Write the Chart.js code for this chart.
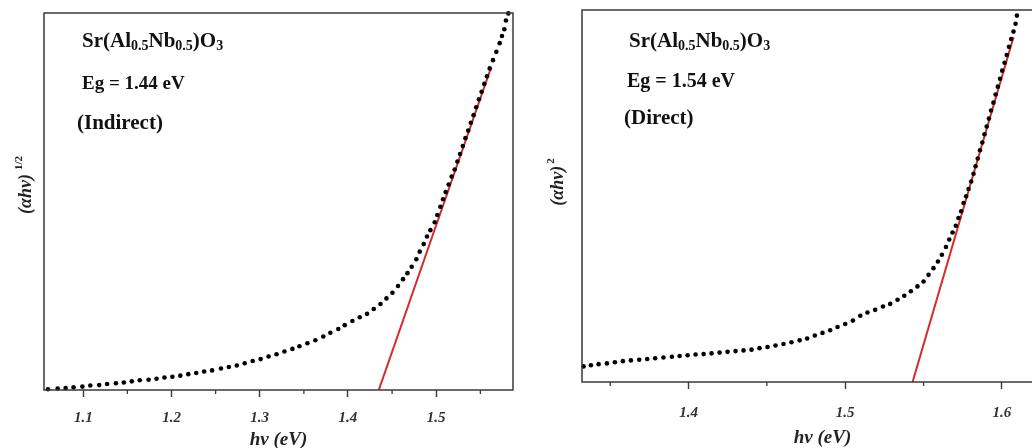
<!DOCTYPE html>
<html>
<head>
<meta charset="utf-8">
<script src="https://cdn.jsdelivr.net/npm/chart.js@4.4.0/dist/chart.umd.min.js"></script>
<style>
  html, body { margin: 0; padding: 0; background: #fff; overflow: hidden; }
  #wrap { position: relative; width: 1032px; height: 448px; overflow: hidden; }
  #leftBox { position: absolute; left: 0; top: 0; width: 520px; height: 448px; }
  #rightBox { position: absolute; left: 520px; top: 0; width: 550px; height: 448px; }
</style>
</head>
<body>
<div id="wrap">
  <div id="leftBox"><canvas id="indirectChart" width="520" height="448"></canvas></div>
  <div id="rightBox"><canvas id="directChart" width="550" height="448"></canvas></div>
</div>
<script>
// indirect gap, (alpha h nu)^1/2 vs h nu
const indirectX = [1.060, 1.071, 1.080, 1.089, 1.099, 1.108, 1.118, 1.127, 1.137, 1.146, 1.155, 1.164, 1.174, 1.183,
  1.192, 1.201, 1.210, 1.219, 1.228, 1.237, 1.246, 1.256, 1.265, 1.274, 1.283, 1.292, 1.301, 1.310, 1.319, 1.328,
  1.337, 1.345, 1.354, 1.363, 1.372, 1.380, 1.389, 1.3963, 1.4050, 1.4133, 1.4216, 1.4292, 1.4368, 1.4436, 1.4504,
  1.4567, 1.4624, 1.4674, 1.4722, 1.4775, 1.4813, 1.4858, 1.4895, 1.4934, 1.4983, 1.5013, 1.5047, 1.5077, 1.5107,
  1.5141, 1.5175, 1.5209, 1.5240, 1.5270, 1.5301, 1.5331, 1.5362, 1.5392, 1.5423, 1.5453, 1.5484, 1.5514, 1.5545,
  1.5575, 1.5606, 1.5643, 1.5681, 1.5719, 1.5745, 1.5772, 1.5790, 1.5817];
const indirectY = [0.2, 0.4, 0.5, 0.7, 0.9, 1.2, 1.3, 1.6, 1.8, 2.0, 2.3, 2.6, 2.7, 3.0,
  3.3, 3.5, 3.8, 4.2, 4.5, 4.9, 5.2, 5.7, 6.1, 6.5, 7.1, 7.7, 8.2, 8.9, 9.5, 10.2,
  10.9, 11.6, 12.4, 13.2, 14.2, 15.2, 16.2, 17.2, 18.3, 19.3, 20.2, 21.5, 22.8, 24.3, 25.8,
  27.6, 29.4, 31.0, 32.7, 34.7, 36.7, 38.7, 40.7, 42.4, 44.5, 46.4, 48.6, 50.6, 52.5,
  54.5, 56.6, 58.5, 60.6, 62.6, 64.7, 66.8, 68.8, 70.9, 72.9, 75.0, 77.1, 79.1, 81.2,
  83.2, 85.3, 87.5, 89.7, 92.0, 93.9, 95.7, 98.0, 99.9];
const indirectFitX = [1.4349, 1.5617];
const indirectFitY = [0, 85.2];
const indirectTicks = [1.1, 1.2, 1.3, 1.4, 1.5];
const indirectMinor = [1.15, 1.25, 1.35, 1.45, 1.55];

// direct gap, (alpha h nu)^2 vs h nu
const directX = [1.3330, 1.3377, 1.3426, 1.3479, 1.3530, 1.3581, 1.3632, 1.3685, 1.3736, 1.3787, 1.3840, 1.3894,
  1.3943, 1.3994, 1.4045, 1.4096, 1.4147, 1.4198, 1.4249, 1.4300, 1.4351, 1.4402, 1.4453, 1.4504, 1.4555, 1.4606,
  1.4657, 1.4709, 1.4757, 1.4806, 1.4855, 1.4904, 1.4951, 1.5000, 1.5049, 1.5096, 1.5142, 1.5191, 1.5241, 1.5287,
  1.5334, 1.5377, 1.5419, 1.5461, 1.5500, 1.5532, 1.5563, 1.5592, 1.5617, 1.5643, 1.5664, 1.5685, 1.5706, 1.5723,
  1.5740, 1.5755, 1.5772, 1.5787, 1.5804, 1.5819, 1.5832, 1.5846, 1.5860, 1.5875, 1.5889, 1.5903, 1.5917, 1.5931,
  1.5946, 1.5960, 1.5974, 1.5988, 1.6002, 1.6017, 1.6031, 1.6045, 1.6059, 1.6074, 1.6087, 1.6096];
const directY = [4.2, 4.5, 4.8, 5.0, 5.3, 5.6, 5.8, 6.0, 6.2, 6.4, 6.6, 6.8,
  7.0, 7.2, 7.4, 7.5, 7.7, 7.9, 8.1, 8.3, 8.5, 8.7, 9.1, 9.4, 9.8, 10.2,
  10.7, 11.2, 11.7, 12.5, 13.2, 13.9, 14.8, 15.6, 16.5, 17.8, 18.7, 19.4, 20.3, 21.0,
  22.1, 23.2, 24.4, 25.7, 27.0, 28.8, 30.6, 32.4, 34.2, 36.3, 38.3, 40.2, 42.0, 44.1,
  45.9, 48.1, 49.9, 51.9, 53.9, 56.0, 58.0, 60.1, 62.3, 64.4, 66.6, 68.7, 70.8, 73.0,
  75.1, 77.3, 79.4, 81.5, 83.7, 85.8, 87.9, 90.1, 92.2, 94.2, 96.3, 98.5];
const directFitX = [1.5430, 1.6074];
const directFitY = [0, 92.7];
const directTicks = [1.4, 1.5, 1.6];
const directMinor = [1.35, 1.45, 1.55];

const SERIF = "'Liberation Serif', 'Times New Roman', serif";

function toPoints(xs, ys) {
  return xs.map((x, i) => ({ x: x, y: ys[i] }));
}

// box, minor ticks, y title with superscript, text block
const decorPlugin = {
  id: "decor",
  afterDraw(chart, args, opts) {
    const { ctx, chartArea } = chart;
    const xs = chart.scales.x;
    ctx.save();
    ctx.strokeStyle = "#3a3a3a";
    ctx.lineWidth = 1.5;
    ctx.strokeRect(chartArea.left, chartArea.top, chartArea.right - chartArea.left, chartArea.bottom - chartArea.top);

    ctx.lineWidth = 1.3;
    opts.minor.forEach((v) => {
      const px = xs.getPixelForValue(v);
      if (px < chartArea.left || px > chartArea.right) return;
      ctx.beginPath();
      ctx.moveTo(px, chartArea.bottom);
      ctx.lineTo(px, chartArea.bottom + 4);
      ctx.stroke();
    });

    // y axis title
    ctx.fillStyle = "#222";
    ctx.translate(opts.yTitle.x, opts.yTitle.y);
    ctx.rotate(-Math.PI / 2);
    ctx.font = "italic bold 18px " + SERIF;
    const w1 = ctx.measureText(opts.yTitle.main).width;
    ctx.font = "bold 11px " + SERIF;
    const w2 = ctx.measureText(opts.yTitle.sup).width;
    const start = -(w1 + w2 + opts.yTitle.gap) / 2;
    ctx.textBaseline = "alphabetic";
    ctx.font = "italic bold 18px " + SERIF;
    ctx.fillText(opts.yTitle.main, start, 6);
    ctx.font = "bold 11px " + SERIF;
    ctx.fillText(opts.yTitle.sup, start + w1 + opts.yTitle.gap, -3);
    ctx.restore();

    // annotation lines
    ctx.save();
    ctx.fillStyle = "#111";
    ctx.textBaseline = "alphabetic";
    opts.lines.forEach((line) => {
      let x = line.x;
      line.parts.forEach(([t, sub]) => {
        ctx.font = sub ? "bold 14px " + SERIF : "bold " + line.size + "px " + SERIF;
        ctx.fillText(t, x, line.y + (sub ? 3 : 0));
        x += ctx.measureText(t).width;
      });
    });
    ctx.restore();
  },
};

function makeChart(id, cfg) {
  return new Chart(document.getElementById(id), {
    type: "scatter",
    data: {
      datasets: [
        {
          data: toPoints(cfg.x, cfg.y),
          pointRadius: 2.3,
          pointBackgroundColor: "#000",
          pointBorderWidth: 0,
          showLine: false,
          clip: false,
        },
        {
          data: toPoints(cfg.fitX, cfg.fitY),
          showLine: true,
          borderColor: "#d42a2a",
          borderWidth: 2,
          pointRadius: 0,
        },
      ],
    },
    plugins: [decorPlugin],
    options: {
      responsive: false,
      animation: false,
      devicePixelRatio: 1,
      layout: { padding: cfg.padding },
      plugins: {
        legend: { display: false },
        tooltip: { enabled: false },
        decor: { minor: cfg.minor, yTitle: cfg.yTitle, lines: cfg.lines },
      },
      scales: {
        x: {
          type: "linear",
          min: cfg.min,
          max: cfg.max,
          afterBuildTicks: (s) => {
            s.ticks = cfg.ticks.map((v) => ({ value: v }));
          },
          afterFit: (s) => {
            s.height = cfg.xHeight;
          },
          border: { display: false },
          grid: { drawOnChartArea: false, tickLength: 7, tickWidth: 1.4, tickColor: "#3a3a3a" },
          ticks: {
            color: "#333",
            padding: cfg.tickPad,
            maxRotation: 0,
            autoSkip: false,
            font: { family: SERIF, size: 15, weight: "bold", style: "italic" },
            callback: (v) => Number(v).toFixed(1),
          },
          title: {
            display: true,
            text: "hv (eV)",
            color: "#222",
            padding: { top: 0, bottom: cfg.titlePad },
            font: { family: SERIF, size: 19, weight: "bold", style: "italic", lineHeight: 1 },
          },
        },
        y: { display: false, min: 0, max: 100 },
      },
    },
  });
}

makeChart("indirectChart", {
  x: indirectX, y: indirectY, fitX: indirectFitX, fitY: indirectFitY,
  ticks: indirectTicks, minor: indirectMinor,
  min: 1.0555, max: 1.587,
  padding: { left: 44, top: 13, right: 7, bottom: 0 },
  xHeight: 58, tickPad: 12, titlePad: -2,
  yTitle: { x: 25, y: 185, main: "(\u03b1hv)", sup: "1/2", gap: 4 },
  lines: [
    { x: 82, y: 47, size: 21, parts: [["Sr(Al"], ["0.5", true], ["Nb"], ["0.5", true], [")O"], ["3", true]] },
    { x: 82, y: 89, size: 19, parts: [["Eg = 1.44 eV"]] },
    { x: 77, y: 129, size: 21, parts: [["(Indirect)"]] },
  ],
});

makeChart("directChart", {
  x: directX, y: directY, fitX: directFitX, fitY: directFitY,
  ticks: directTicks, minor: directMinor,
  min: 1.332, max: 1.639,
  padding: { left: 62, top: 10, right: 7, bottom: 0 },
  xHeight: 66, tickPad: 15, titlePad: 0,
  yTitle: { x: 37, y: 182, main: "(\u03b1hv)", sup: "2", gap: 2 },
  lines: [
    { x: 109, y: 47, size: 21, parts: [["Sr(Al"], ["0.5", true], ["Nb"], ["0.5", true], [")O"], ["3", true]] },
    { x: 107, y: 87, size: 20, parts: [["Eg = 1.54 eV"]] },
    { x: 104, y: 124, size: 21, parts: [["(Direct)"]] },
  ],
});
</script>
</body>
</html>
